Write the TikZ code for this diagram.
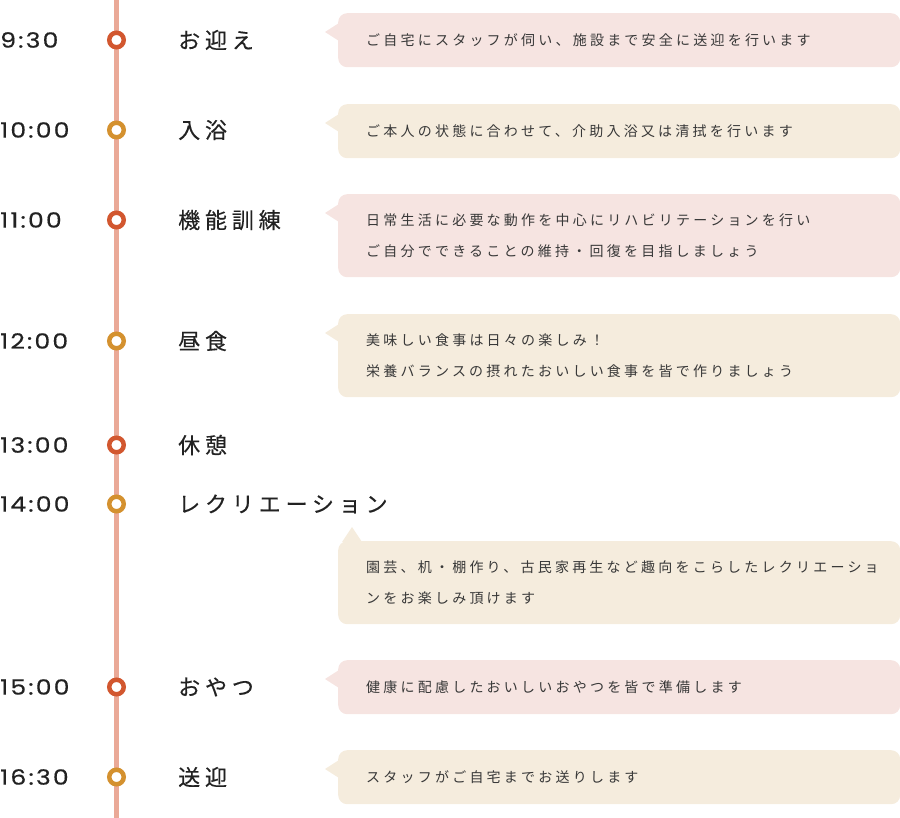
\documentclass[tikz,border=0pt]{standalone}
\usepackage{fontspec}
\setmainfont{Poppins}
\newfontfamily\timefont{Poppins}[FakeStretch=1.2,LetterSpace=10,FakeBold=0.4]
\newfontfamily\jpfont{Noto Sans CJK JP}[LetterSpace=22,FakeBold=0.3]
\newfontfamily\jpnote{Noto Sans CJK JP}[LetterSpace=23]
\usetikzlibrary{positioning,calc}
\definecolor{tlline}{HTML}{EAA997}
\definecolor{dotred}{HTML}{D2572F}
\definecolor{dotamber}{HTML}{D4912F}
\definecolor{notepink}{HTML}{F6E4E1}
\definecolor{notebeige}{HTML}{F5ECDD}
\definecolor{txtdark}{HTML}{222222}

\begin{document}
\begin{tikzpicture}[
  x=1pt,y=-1pt,
  time/.style={anchor=west,inner sep=0pt,font=\timefont\fontsize{21}{24}\selectfont,text=txtdark},
  dotr/.style={circle,draw=dotred,line width=4.5pt,fill=white,minimum size=14.5pt,inner sep=0pt},
  dota/.style={dotr,draw=dotamber},
  act/.style={anchor=west,inner sep=0pt,font=\jpfont\fontsize{22}{24}\selectfont,text=txtdark},
  note/.style={anchor=north west,rounded corners=9pt,minimum width=562pt,minimum height=54pt,text width=506pt,inner xsep=28pt,inner ysep=0pt,align=left,font=\jpnote\fontsize{14}{31}\selectfont,text=txtdark!90},
  tall/.style={minimum height=83pt}
]
\useasboundingbox (0,0) rectangle (900,818);
\draw[tlline,line width=5pt] (116.5,0) -- (116.5,818);

% times and dots
\node[time] (time1) at (0,40) {9:30};
\node[dotr] (dot1) at (116.5,40) {};
\node[time] (time2) at (0,130) {10:00};
\node[dota] (dot2) at (116.5,130) {};
\node[time] (time3) at (0,220) {11:00};
\node[dotr] (dot3) at (116.5,220) {};
\node[time] (time4) at (0,341) {12:00};
\node[dota] (dot4) at (116.5,341) {};
\node[time] (time5) at (0,445) {13:00};
\node[dotr] (dot5) at (116.5,445) {};
\node[time] (time6) at (0,504) {14:00};
\node[dota] (dot6) at (116.5,504) {};
\node[time] (time7) at (0,687) {15:00};
\node[dotr] (dot7) at (116.5,687) {};
\node[time] (time8) at (0,777) {16:30};
\node[dota] (dot8) at (116.5,777) {};

% activities
\node[act] (act1) at (178,40) {お迎え};
\node[act] (act2) at (178,130) {入浴};
\node[act] (act3) at (178,220) {機能訓練};
\node[act] (act4) at (178,341) {昼食};
\node[act] (act5) at (178,445) {休憩};
\node[act] (act6) at (178,504) {レクリエーション};
\node[act] (act7) at (178,687) {おやつ};
\node[act] (act8) at (178,777) {送迎};

% notes
\node[note,fill=notepink] (note1) at (338,13) {ご自宅にスタッフが伺い、施設まで安全に送迎を行います};
\node[note,fill=notebeige] (note2) at (338,104) {ご本人の状態に合わせて、介助入浴又は清拭を行います};
\node[note,tall,fill=notepink] (note3) at (338,194) {日常生活に必要な動作を中心にリハビリテーションを行い\\ご自分でできることの維持・回復を目指しましょう};
\node[note,tall,fill=notebeige] (note4) at (338,314) {美味しい食事は日々の楽しみ！\\栄養バランスの摂れたおいしい食事を皆で作りましょう};
\node[note,tall,fill=notebeige] (note6) at (338,541) {園芸、机・棚作り、古民家再生など趣向をこらしたレクリエーショ\\ンをお楽しみ頂けます};
\node[note,fill=notepink] (note7) at (338,660) {健康に配慮したおいしいおやつを皆で準備します};
\node[note,fill=notebeige] (note8) at (338,750) {スタッフがご自宅までお送りします};

% pointers
\fill[notepink] ($(note1.north west)+(1,10)$) -- ($(note1.north west)+(-13,19)$) -- ($(note1.north west)+(1,28)$) -- cycle;
\fill[notebeige] ($(note2.north west)+(1,10)$) -- ($(note2.north west)+(-13,19)$) -- ($(note2.north west)+(1,28)$) -- cycle;
\fill[notepink] ($(note3.north west)+(1,10)$) -- ($(note3.north west)+(-13,19)$) -- ($(note3.north west)+(1,28)$) -- cycle;
\fill[notebeige] ($(note4.north west)+(1,10)$) -- ($(note4.north west)+(-13,19)$) -- ($(note4.north west)+(1,28)$) -- cycle;
\fill[notebeige] ($(note6.north west)+(4,1)$) -- ($(note6.north west)+(14,-14)$) -- ($(note6.north west)+(24,1)$) -- cycle;
\fill[notepink] ($(note7.north west)+(1,10)$) -- ($(note7.north west)+(-13,19)$) -- ($(note7.north west)+(1,28)$) -- cycle;
\fill[notebeige] ($(note8.north west)+(1,10)$) -- ($(note8.north west)+(-13,19)$) -- ($(note8.north west)+(1,28)$) -- cycle;
\end{tikzpicture}
\end{document}
